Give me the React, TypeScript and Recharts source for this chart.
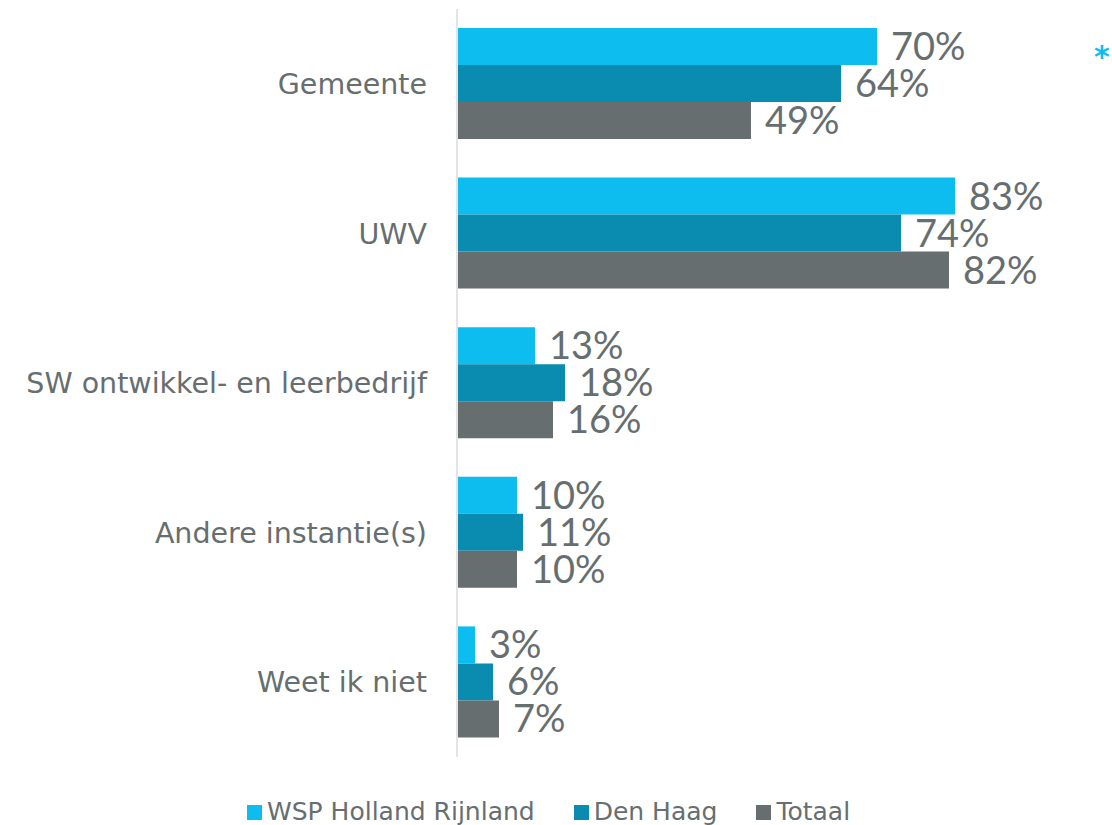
import { BarChart, Bar, XAxis, YAxis, LabelList } from 'recharts';

const categories = ['Gemeente', 'UWV', 'SW ontwikkel- en leerbedrijf', 'Andere instantie(s)', 'Weet ik niet'];
const wspHollandRijnland = [70, 83, 13, 10, 3];
const denHaag = [64, 74, 18, 11, 6];
const totaal = [49, 82, 16, 10, 7];

const series = [
  { key: 'wsp', name: 'WSP Holland Rijnland', color: '#0DBDEF', values: wspHollandRijnland },
  { key: 'dh', name: 'Den Haag', color: '#0A8BB0', values: denHaag },
  { key: 'tot', name: 'Totaal', color: '#666E70', values: totaal },
];

const data = categories.map((name, i) => ({
  name,
  wsp: wspHollandRijnland[i],
  dh: denHaag[i],
  tot: totaal[i],
}));

const textGray = '#666E70';

export default function App() {
  return (
    <div style={{ position: 'absolute', left: 0, top: 0, width: 1112, height: 825, background: '#fff' }}>
      <BarChart
        width={1112}
        height={825}
        data={data}
        layout="vertical"
        margin={{ top: 9, right: 55, bottom: 68, left: 0 }}
        barCategoryGap={19}
        barGap={0}
      >
        <XAxis type="number" domain={[0, 100]} hide />
        <YAxis
          type="category"
          dataKey="name"
          width={457}
          axisLine={{ stroke: '#E4E4E4', strokeWidth: 2 }}
          tickLine={false}
          tickSize={0}
          tickMargin={30}
          tick={{ fontSize: 28.5, fill: textGray, fontFamily: 'DejaVu Sans' }}
          interval={0}
        />
        {series.map((s) => (
          <Bar key={s.key} dataKey={s.key} name={s.name} fill={s.color} isAnimationActive={false}>
            <LabelList
              dataKey={s.key}
              position="right"
              offset={14}
              formatter={(v: number) => `${v}%`}
              style={{ fontSize: 38, fill: textGray, fontFamily: 'Lato' }}
            />
          </Bar>
        ))}
      </BarChart>

      {/* asterisk marker top right */}
      <div
        style={{
          position: 'absolute',
          left: 1094,
          top: 42,
          fontSize: 30,
          fontWeight: 'bold',
          color: '#0DBDEF',
          fontFamily: 'DejaVu Sans',
          lineHeight: '30px',
        }}
      >
        *
      </div>

      <div
        style={{
          position: 'absolute',
          left: 247,
          top: 797,
          display: 'flex',
          alignItems: 'center',
          fontFamily: 'DejaVu Sans',
          fontSize: 25,
          color: textGray,
          lineHeight: '30px',
        }}
      >
        {series.map((s, i) => (
          <div key={s.key} style={{ display: 'flex', alignItems: 'center', marginLeft: i === 0 ? 0 : 39 }}>
            <div style={{ width: 15, height: 15, background: s.color, marginRight: 5 }} />
            <span>{s.name}</span>
          </div>
        ))}
      </div>
    </div>
  );
}
